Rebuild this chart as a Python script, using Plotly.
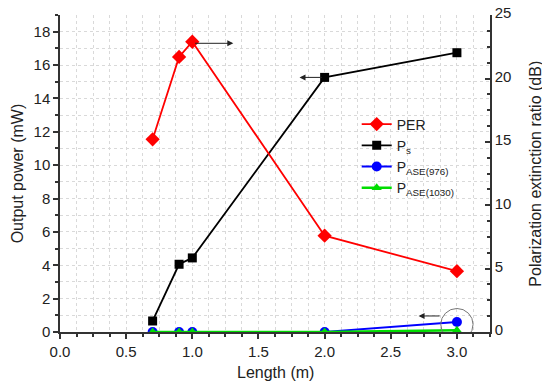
import plotly.graph_objects as go

length = [0.7, 0.9, 1.0, 2.0, 3.0]
per_db = [15.2, 21.7, 22.9, 7.6, 4.8]
ps_mw = [0.66, 4.06, 4.44, 15.26, 16.74]
pase976_mw = [0.0, 0.0, 0.0, 0.0, 0.6]
pase1030_mw = [0.0, 0.0, 0.0, 0.0, 0.1]

FONT = "Liberation Sans, Arial, sans-serif"
TXT = "#222222"

fig = go.Figure()

fig.add_trace(go.Scatter(x=length, y=per_db, name="PER", yaxis="y2",
                         mode="lines+markers",
                         line=dict(color="#ff0000", width=1.8),
                         marker=dict(symbol="diamond", size=11, color="#ff0000")))
fig.add_trace(go.Scatter(x=length, y=ps_mw, name="P<sub>s</sub>",
                         mode="lines+markers",
                         line=dict(color="#000000", width=1.8),
                         marker=dict(symbol="square", size=9, color="#000000")))
fig.add_trace(go.Scatter(x=length, y=pase976_mw, name="P<sub>ASE(976)</sub>",
                         mode="lines+markers",
                         line=dict(color="#0000ff", width=1.8),
                         marker=dict(symbol="circle", size=10, color="#0000ff")))
fig.add_trace(go.Scatter(x=length, y=pase1030_mw, name="P<sub>ASE(1030)</sub>",
                         mode="lines+markers",
                         line=dict(color="#00dd00", width=2.5),
                         marker=dict(symbol="triangle-up", size=9, color="#00dd00")))

grid = dict(showgrid=True, gridcolor="#d9d9d9", griddash="dot", gridwidth=1)

# The page adds an 8px body margin, so the figure is sized/offset to compensate.
fig.update_layout(
    width=542, height=383,
    margin=dict(l=52, r=60, t=7, b=59, autoexpand=False),
    paper_bgcolor="white", plot_bgcolor="white",
    font=dict(family=FONT, size=15, color=TXT),
    showlegend=True,
    legend=dict(x=0.69, y=0.705, xanchor="left", yanchor="top",
                bgcolor="rgba(0,0,0,0)", font=dict(size=14, color=TXT),
                tracegroupgap=0, itemwidth=30),
    xaxis=dict(range=[0, 3.25], dtick=0.5, tick0=0, tickformat=".1f",
               automargin=False,
               showline=True, linecolor="#333", linewidth=1.5,
               ticks="outside", ticklen=5, tickcolor="#333", tickwidth=1.5,
               zeroline=False,
               minor=dict(dtick=0.125, ticks="outside", ticklen=3, tickcolor="#333",
                          **grid),
               **grid),
    yaxis=dict(range=[0, 19], dtick=2, tick0=0, automargin=False,
               showline=True, linecolor="#333", linewidth=1.5,
               ticks="outside", ticklen=5, tickcolor="#333", tickwidth=1.5,
               zeroline=False,
               minor=dict(dtick=1, ticks="outside", ticklen=3, tickcolor="#333",
                          **grid),
               **grid),
    yaxis2=dict(range=[0, 25.01], dtick=5, tick0=0, overlaying="y", side="right",
                automargin=False, ticklabeloverflow="allow", ticklabelshift=-2,
                showline=True, linecolor="#333", linewidth=1.5,
                ticks="inside", ticklen=5, tickcolor="#333", tickwidth=1.5,
                zeroline=False, showgrid=False,
                minor=dict(dtick=1.25, ticks="inside", ticklen=3, tickcolor="#333")),
)

# Axis titles as annotations (exact placement)
fig.add_annotation(text="Length (m)", xref="paper", yref="paper", x=0.5, y=-0.127,
                   xanchor="center", yanchor="middle", showarrow=False,
                   font=dict(size=16, color=TXT))
fig.add_annotation(text="Output power (mW)", xref="paper", yref="paper", x=-0.098, y=0.5,
                   xanchor="center", yanchor="middle", textangle=-90, showarrow=False,
                   font=dict(size=16, color=TXT))
fig.add_annotation(text="Polarization extinction ratio (dB)", xref="paper", yref="paper",
                   x=1.105, y=0.5, xanchor="center", yanchor="middle", textangle=-90,
                   showarrow=False, font=dict(size=16, color=TXT))

# Arrows indicating which axis each curve belongs to
y2_to_y = 19 / 25
arrows = [
    (length[2] + 0.01, per_db[2] * y2_to_y - 0.1, length[2] + 0.31),   # PER -> right axis
    (length[3] - 0.01, ps_mw[3], length[3] - 0.19),                    # Ps -> left axis
    (length[4] - 0.12, pase976_mw[4] + 0.36, length[4] - 0.29),        # ASE -> left axis
]
for tx, ty, hx in arrows:
    fig.add_annotation(x=hx, y=ty, ax=tx, ay=ty, xref="x", yref="y",
                       axref="x", ayref="y", text="", showarrow=True,
                       arrowhead=2, arrowsize=1.2, arrowwidth=1, arrowcolor="#222")

# Circle around the ASE points at the last length
cx = length[4]
cy = (pase976_mw[4] + pase1030_mw[4]) / 2 + 0.1
fig.add_shape(type="circle", xref="x", yref="y",
              x0=cx - 0.122, x1=cx + 0.122, y0=cy - 0.96, y1=cy + 0.96,
              line=dict(color="#777", width=1))

fig.write_html("out.html")
